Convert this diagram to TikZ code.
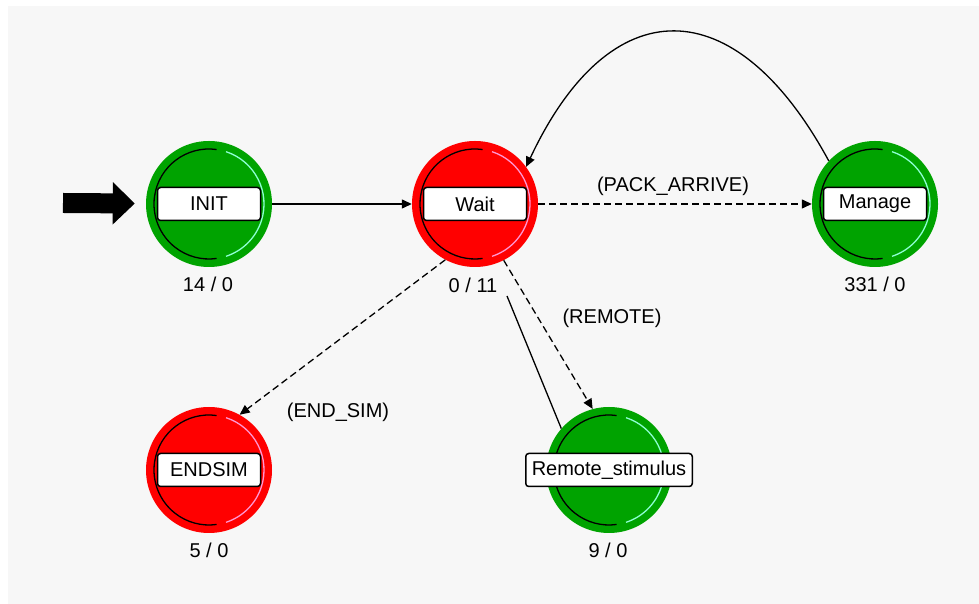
\documentclass[tikz,border=0pt]{standalone}
\usepackage{fontspec}
\setmainfont{Liberation Sans}
\usetikzlibrary{arrows.meta}
\definecolor{stategreen}{RGB}{0,163,0}
\definecolor{statered}{RGB}{255,0,0}
\definecolor{canvasgray}{RGB}{247,247,247}
\definecolor{greenrim}{RGB}{140,255,210}
\definecolor{redrim}{RGB}{255,150,210}
\begin{document}
\begin{tikzpicture}[x=1pt,y=1pt,
  every node/.style={font=\fontsize{20}{24}\selectfont},
  greenstate/.style={circle,fill=stategreen,minimum size=126pt,inner sep=0pt},
  redstate/.style={circle,fill=statered,minimum size=126pt,inner sep=0pt},
  namebox/.style={draw=black,line width=1.5pt,fill=white,rounded corners=3pt,minimum width=103pt,minimum height=33pt,inner xsep=6pt,inner ysep=0pt},
  trans/.style={line width=1.3pt,-{Triangle[length=10pt,width=9pt]}},
  cond/.style={trans,dash pattern=on 7pt off 4pt}]
\useasboundingbox (0,0) rectangle (979,604);
\fill[white] (0,0) rectangle (979,604);
\fill[canvasgray] (8,0) rectangle (979,598);
\node[greenstate] (init) at (209,400) {};
\node[redstate] (wait) at (475,400) {};
\node[greenstate] (manage) at (875,400) {};
\node[redstate] (endsim) at (209,134) {};
\node[greenstate] (remote) at (609,134) {};
\foreach \s/\c in {init/greenrim,wait/redrim,manage/greenrim,endsim/redrim,remote/greenrim}{
  \draw[line width=1.3pt] ([shift={(82:55)}]\s.center) arc[start angle=82,end angle=278,radius=55];
  \draw[\c,line width=1.3pt] ([shift={(72:55)}]\s.center) arc[start angle=72,end angle=-72,radius=55];
}
\node[namebox] (initname) at (init) {INIT};
\node[namebox] (waitname) at (wait) {Wait};
\node[namebox] (managename) at (manage) {Manage};
\node[namebox] (endsimname) at (endsim) {ENDSIM};
\node[namebox] (remotename) at (remote) {Remote\_stimulus};
\node (initcount) at (208,320) {14 / 0};
\node (waitcount) at (473,319) {0 / 11};
\node (managecount) at (875,320) {331 / 0};
\node (endsimcount) at (209,54) {5 / 0};
\node (remotecount) at (608,54) {9 / 0};
\coordinate (entry) at (63,401);
\coordinate (backend) at (507,308);
\draw[line width=20pt,-{Triangle[length=22pt,width=41pt]},shorten >=11pt] (entry) -- (init);
\draw[trans] (init) -- (wait);
\draw[cond] (wait) -- (manage);
\node (packlbl) at (673,418) {(PACK\_ARRIVE)};
\draw[trans] (manage.137) .. controls (735,616) and (610,616) .. (wait.36);
\draw[cond] (wait.242) -- (endsim.61);
\node (endlbl) at (338,192) {(END\_SIM)};
\draw[cond] (wait.297) -- (remote.105);
\node (remotelbl) at (612,286) {(REMOTE)};
\draw[line width=1.3pt] (remote.139) -- (backend);
\end{tikzpicture}
\end{document}
